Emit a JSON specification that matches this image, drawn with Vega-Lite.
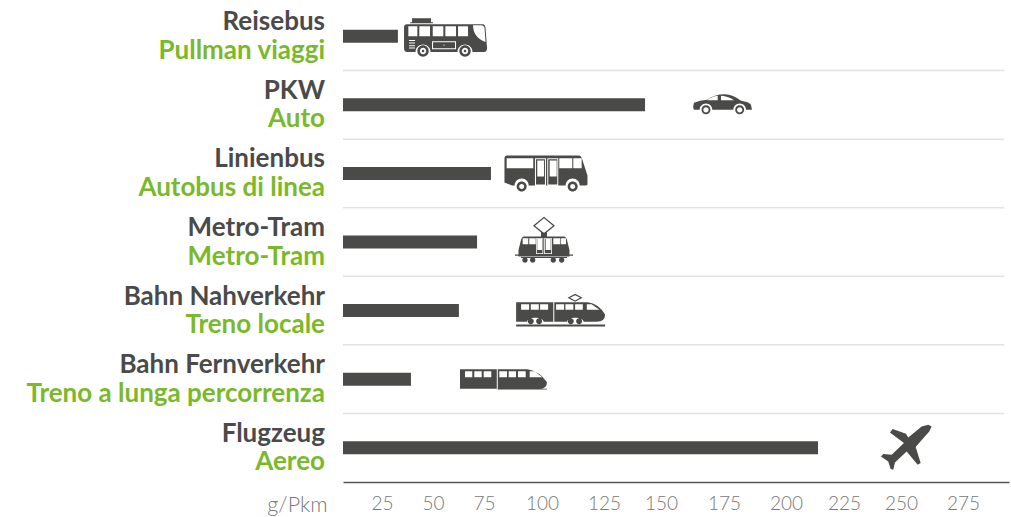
{"$schema":"https://vega.github.io/schema/vega-lite/v6.json","width":666,"height":480,"autosize":"none","padding":{"left":343,"top":2,"right":2,"bottom":35},"background":"white","view":{"stroke":null},"config":{"axis":{"grid":false}},"data":{"values":[{"de":"Reisebus","it":"Pullman viaggi","value":32.8,"icon":"reisebus","icon_x":55.9,"sep":true},{"de":"PKW","it":"Auto","value":143,"icon":"auto","icon_x":174.2,"sep":true},{"de":"Linienbus","it":"Autobus di linea","value":78,"icon":"linienbus","icon_x":101.6,"sep":true},{"de":"Metro-Tram","it":"Metro-Tram","value":71.6,"icon":"tram","icon_x":100.8,"sep":true},{"de":"Bahn Nahverkehr","it":"Treno locale","value":62.7,"icon":"nah","icon_x":107.5,"sep":true},{"de":"Bahn Fernverkehr","it":"Treno a lunga percorrenza","value":39.2,"icon":"fern","icon_x":83.4,"sep":true},{"de":"Flugzeug","it":"Aereo","value":213.8,"icon":"plane","icon_x":252,"sep":false}]},"encoding":{"y":{"field":"de","type":"nominal","sort":null,"axis":null,"scale":{"type":"band","paddingInner":0,"paddingOuter":0}}},"layer":[{"transform":[{"filter":"datum.sep"}],"mark":{"type":"rule","color":"#e3e3e3","strokeWidth":1.5},"encoding":{"y":{"field":"de","type":"nominal","sort":null,"bandPosition":1,"axis":null},"x":{"datum":0,"type":"quantitative"},"x2":{"datum":297.5}}},{"mark":{"type":"bar","height":13,"color":"#4a4a48"},"encoding":{"x":{"field":"value","type":"quantitative","scale":{"domain":[0,25,50,75,100,125,150,175,200,225,250,275,295],"range":[0,39,90,141,199,261,318,381,443,501,558,620,666]},"axis":{"values":[25,50,75,100,125,150,175,200,225,250,275],"ticks":false,"domainColor":"#555555","domainWidth":1.5,"labelColor":"#787878","labelFont":"Lato","labelFontWeight":300,"labelFontSize":19,"labelPadding":12,"labelFlush":false,"labelOverlap":false,"title":"g/Pkm","titleFont":"Lato","titleFontWeight":300,"titleFontSize":21.5,"titleColor":"#787878","titleAnchor":"start","titleAlign":"right","titleBaseline":"middle","titleX":-16,"titleY":23}}}},{"mark":{"type":"text","align":"right","baseline":"middle","font":"Lato","fontWeight":700,"fontSize":26,"color":"#4a4a4a","xOffset":-18,"yOffset":-14},"encoding":{"x":{"datum":0,"type":"quantitative"},"text":{"field":"de"}}},{"mark":{"type":"text","align":"right","baseline":"middle","font":"Lato","fontWeight":700,"fontSize":26,"color":"#7ab929","xOffset":-18,"yOffset":14.5},"encoding":{"x":{"datum":0,"type":"quantitative"},"text":{"field":"it"}}},{"mark":{"type":"point","filled":true,"size":4,"opacity":1,"color":"#4a4a48","strokeWidth":0},"encoding":{"x":{"field":"icon_x","type":"quantitative"},"shape":{"field":"icon","type":"nominal","legend":null,"scale":{"domain":["reisebus","auto","linienbus","tram","nah","fern","plane"],"range":["M-38 -12H38Q40 -12 40.5 -8L42 12Q42 15.5 39 15.7H27.5A7.5 7.5 0 0 0 12.5 15.7H-14.5A7.5 7.5 0 0 0 -29.5 15.7H-38Q-41 15.7 -41 12V-9Q-41 -12 -38 -12ZM-36.7 -10V0H-27.7V-10ZM-25.7 -10V0H-15V-10ZM-12.3 -10V0H-1.7V-10ZM0.3 -10V0H11V-10ZM13 -10V0H23V-10ZM28 -11Q28 1 40.5 5.7L39.5 -8Q39 -11 36 -11ZM-33 -18H-14V-14H-33ZM-35 -14H-12V-13H-35ZM-36 3.7V4.7H-30V3.7ZM-36 6.3V7.3H-30V6.3ZM-36 9V10H-30V9ZM-36 11.3V12.3H-30V11.3ZM-13 5V13H11V5ZM-12 6H10V12H-12ZM-1.5 8.5V9.5H-0.5V8.5ZM-27.7 14.7A5.7 5.7 0 1 1 -16.3 14.7A5.7 5.7 0 1 1 -27.7 14.7ZM-25.2 14.7A3.2 3.2 0 1 0 -18.8 14.7A3.2 3.2 0 1 0 -25.2 14.7ZM-23.3 14.7A1.3 1.3 0 1 1 -20.7 14.7A1.3 1.3 0 1 1 -23.3 14.7ZM14.3 14.7A5.7 5.7 0 1 1 25.7 14.7A5.7 5.7 0 1 1 14.3 14.7ZM16.8 14.7A3.2 3.2 0 1 0 23.2 14.7A3.2 3.2 0 1 0 16.8 14.7ZM18.7 14.7A1.3 1.3 0 1 1 21.3 14.7A1.3 1.3 0 1 1 18.7 14.7Z","M-28 -2Q-22 -4.5 -15 -5Q-8 -10.7 3 -10.7Q11 -10.7 19 -4Q27 -3 29 0L30 5H24A6.3 6.3 0 0 0 11.4 5H-9.7A6.3 6.3 0 0 0 -22.3 5H-28Q-29.5 3 -28 -2ZM-15 -4.5L-4.3 -4.5L-4.3 -9Q-10 -8.5 -15 -4.5ZM-1 -4.5L12 -4.5Q7 -8.5 -1 -9ZM-20.5 5A4.5 4.5 0 1 1 -11.5 5A4.5 4.5 0 1 1 -20.5 5ZM-18.7 5A2.7 2.7 0 1 0 -13.3 5A2.7 2.7 0 1 0 -18.7 5ZM13.2 5A4.5 4.5 0 1 1 22.2 5A4.5 4.5 0 1 1 13.2 5ZM15 5A2.7 2.7 0 1 0 20.4 5A2.7 2.7 0 1 0 15 5Z","M-39 -18H33Q35 -18 36 -15L41.5 2V11Q41.5 12 39 12H33.7A7 7 0 0 0 19.7 12H-17.3A7 7 0 0 0 -31.3 12H-34L-41.5 9V-15Q-41.5 -18 -39 -18ZM-39.3 -15.3V-5.3H-12.7V-15.3ZM13.3 -15.3V-5.3H26.3V-15.3ZM27.3 -15.3V-5.3H35.7V-15.3ZM-11 -15.3V12H0V-15.3ZM-10 -14.3H-1V11H-10ZM-8.7 -13V3H-2V-13ZM1.3 -15.3V12H12.3V-15.3ZM2.3 -14.3H11.3V11H2.3ZM3.7 -13V3H10.7V-13ZM-29.3 13A5 5 0 1 1 -19.3 13A5 5 0 1 1 -29.3 13ZM-26.8 13A2.5 2.5 0 1 0 -21.8 13A2.5 2.5 0 1 0 -26.8 13ZM21.7 13A5 5 0 1 1 31.7 13A5 5 0 1 1 21.7 13ZM24.2 13A2.5 2.5 0 1 0 29.2 13A2.5 2.5 0 1 0 24.2 13Z","M-20 -5.5H20Q22 -5.5 23 -2L25.5 8V14.5H-25.5V8L-23 -2Q-22 -5.5 -20 -5.5ZM-21.3 -3.7V2.3H-15.7V-3.7ZM-14.7 -3.7V2.3H-8.3V-3.7ZM9.3 -3.7V2.3H16V-3.7ZM16.7 -3.7V2.3H22V-3.7ZM-8 -3.7V12H-0.7V-3.7ZM-7.2 -3H-1.5V11.2H-7.2ZM-6.7 -3V8H-2V-3ZM0 -3.7V12H8V-3.7ZM0.8 -3H7.2V11.2H0.8ZM1.7 -3V8H6.7V-3ZM-29 12.5H-25V13.7H-29ZM25 12.5H29V13.7H25ZM-23 15H23V16H-23ZM-21.7 18A2.7 2.7 0 1 1 -16.3 18A2.7 2.7 0 1 1 -21.7 18ZM-14 18A2.7 2.7 0 1 1 -8.6 18A2.7 2.7 0 1 1 -14 18ZM6.6 18A2.7 2.7 0 1 1 12 18A2.7 2.7 0 1 1 6.6 18ZM15 18A2.7 2.7 0 1 1 20.4 18A2.7 2.7 0 1 1 15 18ZM0 -25.3L11 -16.3L0 -7.3L-11 -16.3ZM0 -23.7L-9 -16.3L0 -8.9L9 -16.3ZM-3 -9.5H3V-5.5H-3Z","M-44.5 -8.3H27Q38 -7 44.5 4Q44.5 11.3 36 11.3H23A8.25 4 0 0 0 6.5 11.3H-17A8.25 4 0 0 0 -33.5 11.3H-44.5ZM-7.3 -8.3V11.3H-6.3V-8.3ZM-39.5 -6.3V-0.7H-31.5V-6.3ZM-29.8 -6.3V-0.7H-21.8V-6.3ZM-20.5 -6.3V-0.7H-12.5V-6.3ZM-4.5 -6.3V-0.7H3.5V-6.3ZM4.8 -6.3V-0.7H12.8V-6.3ZM14.5 -6.3V-0.7H22.2V-6.3ZM26.2 -6.3V-0.7H38.8L31 -6.3ZM-32.8 10.7A3 3 0 1 1 -26.8 10.7A3 3 0 1 1 -32.8 10.7ZM-24.5 10.7A3 3 0 1 1 -18.5 10.7A3 3 0 1 1 -24.5 10.7ZM7.2 10.7A3 3 0 1 1 13.2 10.7A3 3 0 1 1 7.2 10.7ZM15.5 10.7A3 3 0 1 1 21.5 10.7A3 3 0 1 1 15.5 10.7ZM-44.5 14H44.5V16H-44.5ZM14.5 -16.7L22 -12.7L14.5 -8.7L7 -12.7ZM14.5 -15.4L9.5 -12.7L14.5 -10L19.5 -12.7Z","M-43.5 -10H24Q36 -8 43.5 3Q43.5 9.7 36 9.7H-43.5ZM-6.7 -10V9.7H-5.7V-10ZM-38.5 -8V-2H-31.2V-8ZM-29.2 -8V-2H-21.8V-8ZM-19.8 -8V-2H-12.2V-8ZM-4.2 -8V-2H3.5V-8ZM5.2 -8V-2H12.5V-8ZM14.5 -8V-2H22.2V-8ZM26.2 -8V-2H38.8L31 -8ZM-6 9.7H43.5V10.4H-6Z","M25.7 -21.3L23.3 -16.3L14 -5.7L9.7 -0.7L14.7 15.3L11.7 17L0.7 3.7L-11 14.7L-12.7 22L-15.3 21.3L-17.7 13.7L-25 8.7L-22.7 6.3L-14.3 7L-2 -4.7L-16 -15.3L-13.3 -18.7L0 -14L2.3 -10.3L15.7 -21.3L22.3 -23Z"]}}}}]}
